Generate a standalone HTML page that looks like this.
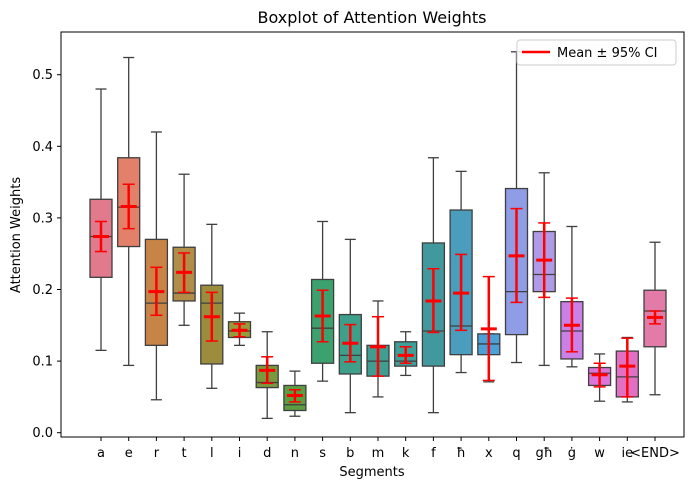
<!DOCTYPE html>
<html><head><meta charset="utf-8"><style>
body{margin:0;background:#fff;}
svg text{font-family:"DejaVu Sans","Liberation Sans",sans-serif;}
</style></head><body>
<svg id="chart" width="690" height="490" xmlns="http://www.w3.org/2000/svg">
<rect width="690" height="490" fill="#fff"/>
<text x="372" y="23" font-size="16" text-anchor="middle">Boxplot of Attention Weights</text>
<g id="marks"></g>
<rect x="61" y="32" width="623" height="405" fill="none" stroke="#000" stroke-width="1"/>
<g id="axes"></g>
<text x="372" y="476" font-size="13" text-anchor="middle">Segments</text>
<text transform="translate(20,235) rotate(-90)" font-size="13" text-anchor="middle">Attention Weights</text>
<g>
<rect x="517" y="40" width="159" height="25" rx="3" fill="#fff" fill-opacity="0.85" stroke="#ccc"/>
<line x1="522" y1="52" x2="550" y2="52" stroke="red" stroke-width="2.5"/>
<text x="557" y="57" font-size="13">Mean ± 95% CI</text>
</g>
</svg>
<script>
const categories=["a","e","r","t","l","i","d","n","s","b","m","k","f","ħ","x","q","għ","ġ","w","ie","<END>"];
const whiskerLow=[.115,.094,.046,.150,.062,.122,.020,.023,.072,.028,.050,.080,.028,.084,.071,.098,.094,.092,.044,.043,.053];
const q1=[.217,.260,.122,.184,.096,.133,.063,.031,.097,.082,.079,.093,.093,.109,.109,.137,.197,.103,.066,.050,.120];
const median=[.274,.315,.181,.195,.181,.142,.070,.039,.146,.108,.100,.100,.142,.149,.124,.197,.221,.142,.083,.078,.170];
const q3=[.326,.384,.270,.259,.206,.155,.094,.066,.214,.165,.122,.127,.265,.311,.138,.341,.281,.183,.091,.114,.199];
const whiskerHigh=[.480,.524,.420,.361,.291,.167,.141,.086,.295,.270,.184,.141,.384,.365,.138,.532,.363,.288,.110,.133,.266];
const means=[.274,.316,.197,.224,.162,.143,.087,.052,.163,.125,.120,.108,.184,.195,.145,.247,.241,.150,.081,.093,.161];
const ciLow=[.253,.285,.164,.196,.128,.134,.069,.043,.127,.099,.079,.097,.140,.143,.073,.182,.189,.113,.064,.050,.152];
const ciHigh=[.295,.347,.231,.251,.196,.152,.106,.060,.199,.151,.162,.120,.229,.249,.218,.313,.293,.188,.097,.132,.170];
const colors=["#e17a8d","#e2806a","#c78446","#b08d49","#9c8c3e","#999a3c","#7a993d","#5c9d41","#3ba26f","#3e9f8b","#3f9e91","#3f9f99","#42999d","#4a9dbc","#4ba0d8","#8f9de6","#b099e6","#cb80e8","#dd74d8","#e170c3","#e37ba8"];
const yTicks=[0,0.1,0.2,0.3,0.4,0.5];
const NS="http://www.w3.org/2000/svg";
const y=v=>432.7-v*716;
const x=i=>101+i*27.7;
const marks=document.getElementById('marks'),axes=document.getElementById('axes');
function mk(p,tag,a){const e=document.createElementNS(NS,tag);for(const k in a)e.setAttribute(k,a[k]);p.appendChild(e);return e;}
const bw=22,cap=11;
categories.forEach((c,i)=>{
  const g=mk(marks,'g',{});
  
  
  const cx=x(i),st={stroke:'#3f3f3f','stroke-width':1.3};
  mk(g,'line',Object.assign({x1:cx,x2:cx,y1:y(whiskerHigh[i]),y2:y(q3[i])},st));
  mk(g,'line',Object.assign({x1:cx,x2:cx,y1:y(q1[i]),y2:y(whiskerLow[i])},st));
  mk(g,'line',Object.assign({x1:cx-cap/2,x2:cx+cap/2,y1:y(whiskerHigh[i]),y2:y(whiskerHigh[i])},st));
  mk(g,'line',Object.assign({x1:cx-cap/2,x2:cx+cap/2,y1:y(whiskerLow[i]),y2:y(whiskerLow[i])},st));
  mk(g,'rect',Object.assign({x:cx-bw/2,y:y(q3[i]),width:bw,height:y(q1[i])-y(q3[i]),fill:colors[i]},st));
  mk(g,'line',Object.assign({x1:cx-bw/2,x2:cx+bw/2,y1:y(median[i]),y2:y(median[i])},st));
  const e=mk(marks,'g',{});
  
  
  const rs={stroke:'red','stroke-width':1.5};
  mk(e,'line',{x1:cx,x2:cx,y1:y(ciHigh[i]),y2:y(ciLow[i]),'stroke-width':2.5,stroke:'red'});
  mk(e,'line',Object.assign({x1:cx-6,x2:cx+6,y1:y(ciHigh[i]),y2:y(ciHigh[i])},rs));
  mk(e,'line',Object.assign({x1:cx-6,x2:cx+6,y1:y(ciLow[i]),y2:y(ciLow[i])},rs));
  mk(e,'line',{x1:cx-8,x2:cx+8,y1:y(means[i]),y2:y(means[i]),stroke:'red','stroke-width':3});
  mk(axes,'line',{x1:cx,x2:cx,y1:437,y2:441,stroke:'#000'});
  const t=mk(axes,'text',{x:cx,y:457,'font-size':13,'text-anchor':'middle'});
  t.textContent=c;
  
  
});
yTicks.forEach(v=>{
  mk(axes,'line',{x1:57,x2:61,y1:y(v),y2:y(v),stroke:'#000'});
  const t=mk(axes,'text',{x:53,y:y(v)+4.5,'font-size':13,'text-anchor':'end'});
  t.textContent=v.toFixed(1);
  
  
});
</script>
</body></html>
